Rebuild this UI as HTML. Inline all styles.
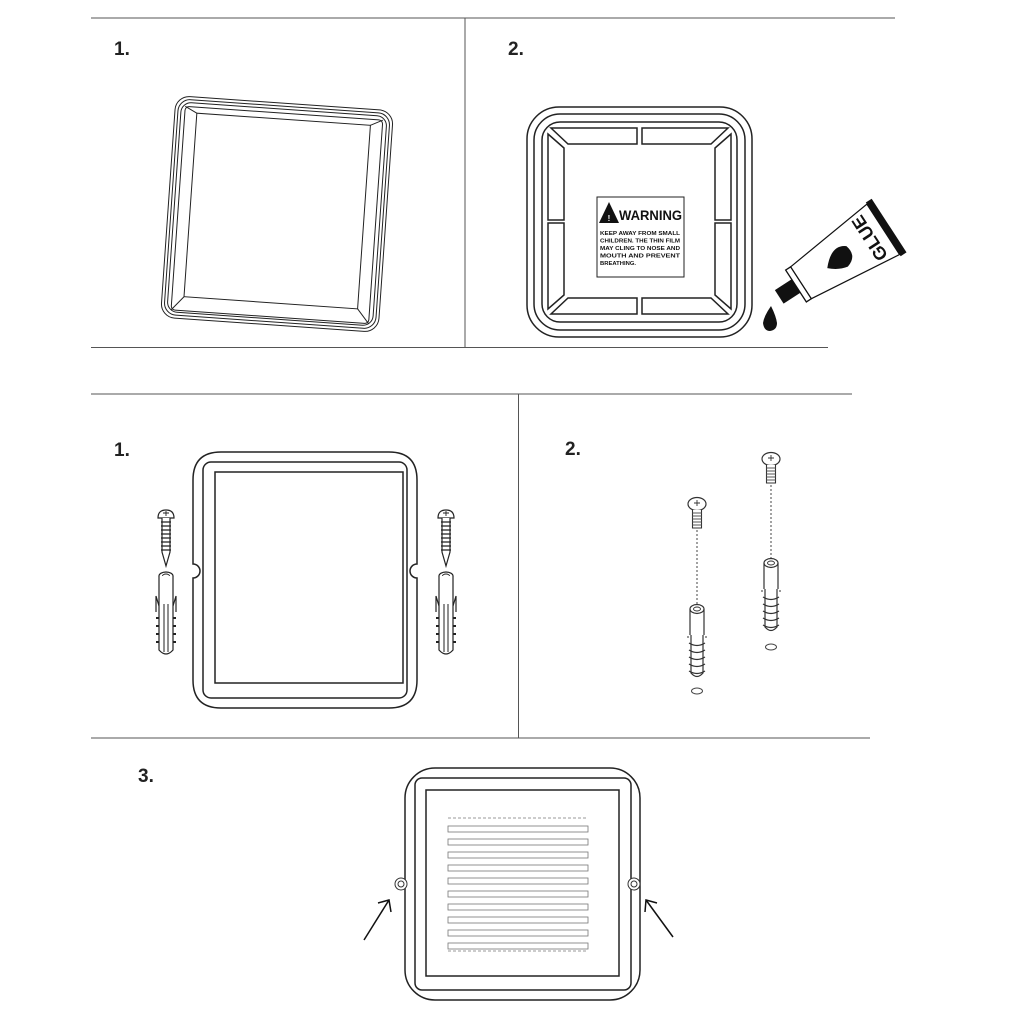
<!DOCTYPE html>
<html><head><meta charset="utf-8"><style>
html,body{margin:0;padding:0;background:#fff}
svg{display:block}
text{font-family:"Liberation Sans",sans-serif}
</style></head><body>
<svg width="1010" height="1010" viewBox="0 0 1010 1010" xmlns="http://www.w3.org/2000/svg">
<defs>
 <g id="woodscrew">
  <path d="M-8 8 Q-8 0 0 0 Q8 0 8 8 Z" fill="#fff" stroke="#222" stroke-width="1.2"/>
  <path d="M-3 3h6M0 1v5" stroke="#222" stroke-width="0.9"/>
  <path d="M-4 8 L-4 42 L0 56 L4 42 L4 8" fill="#fff" stroke="#222" stroke-width="1.2"/>
  <path d="M-5 12h10M-5 16h10M-5 20h10M-5 24h10M-5 28h10M-5 32h10M-5 36h10M-5 40h10" stroke="#222" stroke-width="1.2"/>
 </g>
 <g id="anchor">
  <ellipse cx="0" cy="4" rx="7" ry="4" fill="#fff" stroke="#222" stroke-width="1.2"/>
  <ellipse cx="0" cy="4" rx="3.5" ry="2" fill="none" stroke="#222" stroke-width="0.9"/>
  <path d="M-7 4 L-7 78 Q0 86 7 78 L7 4" fill="#fff" stroke="#222" stroke-width="1.2"/>
  <path d="M-2 32 L-2 80 M2 32 L2 80" stroke="#222" stroke-width="1"/>
  <path d="M-7 34 L-10 24 L-10 40 M7 34 L10 24 L10 40" fill="none" stroke="#222" stroke-width="1.2"/>
  <path d="M-7 46 h-3 M-7 54 h-3 M-7 62 h-3 M-7 70 h-3 M7 46 h3 M7 54 h3 M7 62 h3 M7 70 h3" stroke="#222" stroke-width="2"/>
 </g>
 <g id="mscrew">
  <ellipse cx="0" cy="6" rx="9" ry="6.5" fill="#fff" stroke="#333" stroke-width="1.2"/>
  <path d="M-3 5h6M0 2v6" stroke="#333" stroke-width="0.9"/>
  <path d="M-4.5 12 V30 H4.5 V12" fill="#fff" stroke="#333" stroke-width="1.1"/>
  <path d="M-4.5 15h9M-4.5 18h9M-4.5 21h9M-4.5 24h9M-4.5 27h9" stroke="#555" stroke-width="0.9"/>
 </g>
 <g id="manchor">
  <ellipse cx="0" cy="4" rx="7" ry="4.5" fill="#fff" stroke="#333" stroke-width="1.2"/>
  <ellipse cx="0" cy="4" rx="3.5" ry="2" fill="none" stroke="#333" stroke-width="0.9"/>
  <path d="M-7 4 V30 M7 4 V30" stroke="#333" stroke-width="1.2"/>
  <path d="M-6 30 V68 Q0 75 6 68 V30" fill="#fff" stroke="#333" stroke-width="1.2"/>
  <path d="M-8 38 q8 5 16 0 M-8 45 q8 5 16 0 M-8 52 q8 5 16 0 M-8 59 q8 5 16 0 M-8 66 q8 5 16 0" fill="none" stroke="#333" stroke-width="1.2"/>
  <path d="M-8 32 h-2 M8 32 h2" stroke="#333"/>
 </g>
</defs>

<g stroke="#555" stroke-width="1">
 <line x1="91" y1="18" x2="895" y2="18"/>
 <line x1="465" y1="18" x2="465" y2="348"/>
 <line x1="91" y1="347.5" x2="828" y2="347.5"/>
 <line x1="91" y1="394" x2="852" y2="394"/>
 <line x1="518.5" y1="394" x2="518.5" y2="738"/>
 <line x1="91" y1="738" x2="870" y2="738"/>
</g>

<g font-weight="bold" font-size="19" fill="#222">
 <text x="114" y="55">1.</text>
 <text x="508" y="55">2.</text>
 <text x="114" y="456">1.</text>
 <text x="565" y="455">2.</text>
 <text x="138" y="782">3.</text>
</g>

<!-- Panel 1 tilted square -->
<g transform="rotate(4 277 214)" fill="none" stroke="#222" stroke-width="1">
 <rect x="168" y="103" width="218" height="222" rx="14"/>
 <rect x="171" y="106" width="212" height="216" rx="12"/>
 <rect x="174" y="109" width="206" height="210" rx="10"/>
 <rect x="178" y="113" width="198" height="204" rx="4"/>
 <rect x="190" y="119" width="174" height="184"/>
 <path d="M178 113 L190 119 M376 113 L364 119 M376 317 L364 303 M178 317 L190 303"/>
</g>

<!-- Panel 2 -->
<g fill="none" stroke="#222" stroke-width="1.5">
 <rect x="527" y="107" width="225" height="230" rx="32"/>
 <rect x="534" y="114" width="211" height="216" rx="26"/>
 <rect x="542" y="122" width="195" height="200" rx="18"/>
 <path d="M551 128 H637 V144 H568 Z"/>
 <path d="M642 128 H728 L711 144 H642 Z"/>
 <path d="M568 298 H637 V314 H551 Z"/>
 <path d="M642 298 H711 L728 314 H642 Z"/>
 <path d="M548 134 L564 148 V220 H548 Z"/>
 <path d="M548 223 H564 V295 L548 309 Z"/>
 <path d="M731 134 L715 148 V220 H731 Z"/>
 <path d="M731 223 H715 V295 L731 309 Z"/>
</g>
<rect x="597" y="197" width="87" height="80" fill="#fff" stroke="#222" stroke-width="1"/>
<path d="M599 223 L609 202 L619 223 Z" fill="#111"/>
<text x="609" y="221" font-size="8" fill="#fff" text-anchor="middle" font-weight="bold">!</text>
<text x="619" y="220" font-size="14" fill="#111" font-weight="bold" textLength="63" lengthAdjust="spacingAndGlyphs">WARNING</text>
<g font-size="5.8" font-weight="bold" fill="#111">
 <text x="600" y="235" textLength="80" lengthAdjust="spacingAndGlyphs">KEEP AWAY FROM SMALL</text>
 <text x="600" y="242.5" textLength="80" lengthAdjust="spacingAndGlyphs">CHILDREN. THE THIN FILM</text>
 <text x="600" y="250" textLength="80" lengthAdjust="spacingAndGlyphs">MAY CLING TO NOSE AND</text>
 <text x="600" y="257.5" textLength="80" lengthAdjust="spacingAndGlyphs">MOUTH   AND   PREVENT</text>
 <text x="600" y="265" textLength="36" lengthAdjust="spacingAndGlyphs">BREATHING.</text>
</g>
<!-- glue tube -->
<g transform="translate(796 286) rotate(-33)">
 <path d="M-20 -8 H0 V8 H-20 Z" fill="#111"/>
 <rect x="0" y="-19" width="6" height="38" fill="#fff" stroke="#111" stroke-width="1.3"/>
 <path d="M6 -19 L104 -30 L104 30 L6 19 Z" fill="#fff" stroke="#111" stroke-width="1.2"/>
 <rect x="104" y="-32" width="7" height="64" fill="#111"/>
 <path d="M36 2 Q52 -16 64 -6 Q68 8 54 12 Q44 10 36 2 Z" fill="#111"/>
 <text x="0" y="0" transform="translate(88 0) rotate(-90)" font-size="18" font-weight="bold" fill="#111" text-anchor="middle" dy="6">GLUE</text>
</g>
<path d="M771 306 Q764 316 763 323 Q764 331 770 331 Q777 330 777 323 Q776 316 771 306 Z" fill="#111"/>

<!-- Bottom panel 1 -->
<g fill="none" stroke="#222" stroke-width="1.5">
 <path d="M221 452 H389 Q417 452 417 480 V564 A7 7 0 0 0 417 578 V680 Q417 708 389 708 H221 Q193 708 193 680 V578 A7 7 0 0 0 193 564 V480 Q193 452 221 452 Z"/>
 <rect x="203" y="462" width="204" height="236" rx="8"/>
 <rect x="215" y="472" width="188" height="211"/>
</g>
<use href="#woodscrew" x="166" y="510"/>
<use href="#anchor" x="166" y="572"/>
<use href="#woodscrew" x="446" y="510"/>
<use href="#anchor" x="446" y="572"/>

<!-- Bottom panel 2 -->
<use href="#mscrew" x="697" y="498"/>
<line x1="697" y1="530" x2="697" y2="605" stroke="#444" stroke-dasharray="2 2"/>
<use href="#manchor" x="697" y="605"/>
<ellipse cx="697" cy="691" rx="5.5" ry="3" fill="none" stroke="#444"/>
<use href="#mscrew" x="771" y="453"/>
<line x1="771" y1="485" x2="771" y2="559" stroke="#444" stroke-dasharray="2 2"/>
<use href="#manchor" x="771" y="559"/>
<ellipse cx="771" cy="647" rx="5.5" ry="3" fill="none" stroke="#444"/>

<!-- Panel 3 -->
<g fill="none" stroke="#222" stroke-width="1.5">
 <rect x="405" y="768" width="235" height="232" rx="30"/>
 <rect x="415" y="778" width="216" height="212" rx="7"/>
 <rect x="426" y="790" width="193" height="186"/>
</g>
<g fill="none" stroke="#777" stroke-width="0.8">
 <line x1="448" y1="818" x2="588" y2="818" stroke-dasharray="3 2"/>
 <rect x="448" y="826" width="140" height="6"/>
 <rect x="448" y="839" width="140" height="6"/>
 <rect x="448" y="852" width="140" height="6"/>
 <rect x="448" y="865" width="140" height="6"/>
 <rect x="448" y="878" width="140" height="6"/>
 <rect x="448" y="891" width="140" height="6"/>
 <rect x="448" y="904" width="140" height="6"/>
 <rect x="448" y="917" width="140" height="6"/>
 <rect x="448" y="930" width="140" height="6"/>
 <rect x="448" y="943" width="140" height="6"/>
 <line x1="448" y1="951" x2="588" y2="951" stroke-dasharray="3 2"/>
</g>
<g fill="#fff" stroke="#333">
 <circle cx="401" cy="884" r="6"/><circle cx="401" cy="884" r="3"/>
 <circle cx="634" cy="884" r="6"/><circle cx="634" cy="884" r="3"/>
</g>
<g stroke="#111" stroke-width="1.5" fill="none">
 <line x1="364" y1="940" x2="389" y2="900"/>
 <path d="M378 903 L389 900 L391 912"/>
 <line x1="673" y1="937" x2="646" y2="900"/>
 <path d="M645 912 L646 900 L657 903"/>
</g>
</svg>
</body></html>
